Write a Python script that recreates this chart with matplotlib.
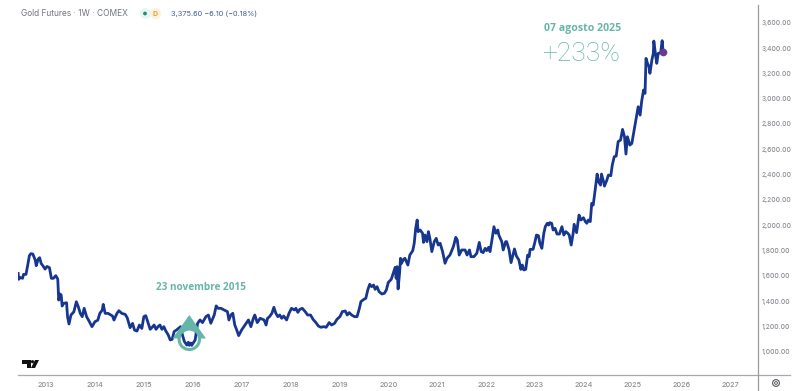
import matplotlib
matplotlib.use('Agg')
import matplotlib.pyplot as plt
from matplotlib.lines import Line2D
from matplotlib.patches import Circle, Polygon
from matplotlib.transforms import IdentityTransform

W, H = 800, 391

years = [2012.43, 2012.44, 2012.475, 2012.52, 2012.54, 2012.59, 2012.62, 2012.66, 2012.69, 2012.73,
         2012.78, 2012.80, 2012.84, 2012.87, 2012.90, 2012.94, 2012.98, 2013.02, 2013.07, 2013.11,
         2013.15, 2013.20, 2013.24, 2013.26, 2013.29, 2013.31, 2013.33, 2013.36, 2013.42, 2013.44,
         2013.47, 2013.51, 2013.54, 2013.57, 2013.62, 2013.66, 2013.70, 2013.74, 2013.78, 2013.83,
         2013.88, 2013.94, 2014.00, 2014.06, 2014.10, 2014.15, 2014.17, 2014.21, 2014.27, 2014.36,
         2014.39, 2014.45, 2014.49, 2014.55, 2014.62, 2014.66, 2014.72, 2014.77, 2014.81, 2014.86,
         2014.91, 2014.96, 2015.00, 2015.04, 2015.09, 2015.13, 2015.17, 2015.21, 2015.25, 2015.29,
         2015.33, 2015.37, 2015.41, 2015.45, 2015.50, 2015.54, 2015.58, 2015.62, 2015.67, 2015.75,
         2015.79, 2015.83, 2015.88, 2015.91, 2015.93, 2015.96, 2015.98, 2016.05, 2016.10, 2016.15,
         2016.20, 2016.27,
         2016.32, 2016.37, 2016.44, 2016.48, 2016.52, 2016.58, 2016.64, 2016.71, 2016.74, 2016.78,
         2016.82, 2016.86, 2016.90, 2016.94, 2017.00, 2017.07, 2017.14, 2017.19, 2017.24, 2017.27,
         2017.32, 2017.38, 2017.46, 2017.50, 2017.53, 2017.57, 2017.62, 2017.66, 2017.70, 2017.74,
         2017.78, 2017.82, 2017.86, 2017.92, 2017.97, 2018.02, 2018.08, 2018.11, 2018.15, 2018.19,
         2018.24, 2018.30, 2018.35, 2018.41, 2018.46, 2018.52, 2018.57, 2018.62, 2018.68, 2018.73,
         2018.79, 2018.84, 2018.90, 2018.95, 2019.01, 2019.06, 2019.12, 2019.16, 2019.20, 2019.25,
         2019.31, 2019.36, 2019.40, 2019.44, 2019.50, 2019.54, 2019.58, 2019.62, 2019.66, 2019.70,
         2019.73, 2019.77, 2019.81, 2019.87, 2019.92, 2019.96, 2020.00, 2020.06, 2020.10, 2020.14,
         2020.16, 2020.18, 2020.20, 2020.23, 2020.25, 2020.27, 2020.31, 2020.34, 2020.37, 2020.40,
         2020.44, 2020.50, 2020.53, 2020.56, 2020.59, 2020.61, 2020.65, 2020.70, 2020.72, 2020.75,
         2020.79, 2020.82, 2020.85, 2020.89, 2020.94, 2020.98, 2021.02, 2021.06, 2021.11, 2021.16,
         2021.20, 2021.26, 2021.33, 2021.38, 2021.41, 2021.45, 2021.50, 2021.57, 2021.61, 2021.66,
         2021.69, 2021.75, 2021.81, 2021.86, 2021.90, 2021.94, 2021.98, 2022.01, 2022.05, 2022.08,
         2022.13, 2022.16, 2022.20, 2022.24, 2022.26, 2022.32, 2022.35, 2022.40, 2022.42, 2022.47,
         2022.51, 2022.55, 2022.58, 2022.62, 2022.67, 2022.71, 2022.74, 2022.77, 2022.81, 2022.85,
         2022.88, 2022.90, 2022.96, 2023.00, 2023.03, 2023.07, 2023.10, 2023.14, 2023.18, 2023.21,
         2023.25, 2023.28, 2023.30, 2023.34, 2023.37, 2023.41, 2023.45, 2023.50, 2023.55, 2023.59,
         2023.63, 2023.67, 2023.70, 2023.74, 2023.78, 2023.80, 2023.85, 2023.90, 2023.94, 2023.99,
         2024.03, 2024.06, 2024.09, 2024.13, 2024.16, 2024.19, 2024.23, 2024.27, 2024.30, 2024.34,
         2024.36, 2024.41, 2024.42, 2024.47, 2024.50, 2024.55, 2024.58, 2024.62, 2024.66, 2024.70,
         2024.75, 2024.79, 2024.83, 2024.86, 2024.89, 2024.94, 2024.98, 2025.05, 2025.11, 2025.15,
         2025.18, 2025.22, 2025.25, 2025.27, 2025.30, 2025.33, 2025.35, 2025.39, 2025.42, 2025.43,
         2025.47, 2025.49, 2025.52, 2025.57, 2025.60, 2025.62]
prices = [1619, 1572, 1587, 1580, 1611, 1611, 1672, 1759, 1775, 1772,
          1724, 1680, 1732, 1743, 1698, 1677, 1653, 1674, 1664, 1580,
          1580, 1601, 1574, 1408, 1456, 1448, 1361, 1382, 1387, 1277,
          1219, 1290, 1303, 1316, 1395, 1356, 1303, 1277, 1343, 1277,
          1242, 1198, 1237, 1250, 1303, 1329, 1374, 1303, 1303, 1282,
          1250, 1303, 1324, 1303, 1295, 1269, 1190, 1224, 1171, 1163,
          1211, 1184, 1277, 1285, 1225, 1177, 1193, 1211, 1177, 1198,
          1211, 1177, 1198, 1164, 1132, 1093, 1098, 1159, 1172, 1198,
          1132, 1080, 1053, 1075, 1050, 1068, 1050, 1093, 1225, 1251,
          1230, 1277,
          1290, 1225, 1290, 1362, 1343, 1343, 1330, 1317, 1251, 1290,
          1304, 1211, 1172, 1127, 1172, 1211, 1251, 1198, 1264, 1290,
          1230, 1264, 1251, 1211, 1264, 1277, 1304, 1351, 1304, 1277,
          1290, 1264, 1282, 1251, 1304, 1343, 1330, 1343, 1311, 1335,
          1343, 1317, 1290, 1290, 1256, 1230, 1203, 1193, 1198, 1193,
          1230, 1211, 1224, 1256, 1277, 1317, 1322, 1290, 1309, 1290,
          1277, 1277, 1330, 1396, 1414, 1422, 1488, 1533, 1514, 1527,
          1493, 1514, 1475, 1456, 1462, 1488, 1548, 1572, 1620, 1667,
          1580, 1672, 1496, 1620, 1738, 1699, 1730, 1738, 1712, 1685,
          1764, 1799, 1857, 1975, 2041, 1949, 1962, 1936, 1864, 1922,
          1870, 1949, 1896, 1791, 1870, 1896, 1843, 1857, 1791, 1699,
          1738, 1764, 1830, 1904, 1883, 1764, 1804, 1804, 1764, 1804,
          1751, 1751, 1778, 1864, 1791, 1783, 1817, 1799, 1825, 1791,
          1909, 1988, 1936, 1962, 1922, 1870, 1804, 1870, 1870, 1804,
          1704, 1764, 1812, 1756, 1725, 1651, 1685, 1646, 1651, 1764,
          1751, 1809, 1809, 1870, 1922, 1917, 1857, 1817, 1936, 1988,
          2015, 2001, 2020, 2015, 1962, 1975, 1930, 1930, 1988, 1922,
          1949, 1936, 1922, 1843, 1936, 2007, 1941, 2080, 2041, 2059,
          2028, 2015, 2041, 2028, 2173, 2159, 2278, 2404, 2344, 2317,
          2404, 2331, 2309, 2357, 2396, 2391, 2475, 2541, 2546, 2660,
          2673, 2757, 2699, 2562, 2699, 2633, 2646, 2804, 2936, 2870,
          2976, 3068, 3042, 3318, 3279, 3252, 3200, 3305, 3358, 3455,
          3331, 3279, 3358, 3363, 3458, 3371]

year_ticks = list(range(2013, 2028))
price_ticks = list(range(1000, 3601, 200))

NAVY = '#17368f'
TEAL = '#66b5a9'
GREY = '#8a8d94'
AXIS = '#a8a9ad'

def fx(px):
    return px / W

def fy(py):
    return 1 - py / H

def pix(px, py):
    return (px, H - py)

fig = plt.figure(figsize=(W / 100, H / 100), dpi=100)
ax = fig.add_axes([fx(18), fy(375), fx(757.5) - fx(18), fy(5) - fy(375)])
ax.set_xlim(2012.427, 2027.55)
ax.set_ylim(816, 3740)

for s in ['top', 'left', 'bottom', 'right']:
    ax.spines[s].set_visible(False)

ax.plot(years, prices, color=NAVY, lw=2.0, solid_joinstyle='round', zorder=2)
ax.plot(years[-1], prices[-1], 'o', ms=4.5, color='#6d3a8e', zorder=3)

# arrow mark over the 2015 low
tri = Polygon([pix(189.3, 315), pix(172.5, 338.5), pix(206, 338.5)], closed=True,
              transform=IdentityTransform(), fc=TEAL, ec='none', zorder=4, clip_on=False)
ring = Circle(pix(189.3, 339.3), 10.2, transform=IdentityTransform(), fc='white', ec=TEAL,
              lw=2.2, zorder=5, clip_on=False)
ax.add_patch(tri)
ax.add_patch(ring)
inner, = ax.plot(years, prices, color=NAVY, lw=2.0, zorder=6)
inner.set_clip_path(Circle(pix(189.3, 339.3), 9, transform=IdentityTransform()))

ax.set_xticks(year_ticks)
ax.set_xticklabels([str(y) for y in year_ticks], fontsize=5.2, color=GREY, family='Inter', fontweight='medium')
ax.yaxis.tick_right()
ax.set_yticks(price_ticks)
ax.set_yticklabels([f'{p:,.2f}' for p in price_ticks], fontsize=4.8, color=GREY, family='Inter', fontweight='medium')
ax.tick_params(axis='x', length=0, pad=5)
ax.tick_params(axis='y', length=0, pad=3)

# frame lines run past the plot area
fig.add_artist(Line2D([fx(18), fx(790)], [fy(375), fy(375)], color=AXIS, lw=0.9))
fig.add_artist(Line2D([fx(757.5), fx(757.5)], [fy(5), fy(391)], color='#9a9a9e', lw=0.9))

# header
fig.text(fx(21), fy(13.5), 'Gold Futures · 1W · COMEX', fontsize=6.0, color='#70747c', family='Inter', va='center')
fig.text(fx(171), fy(13.5), '3,375.60 −6.10 (−0.18%)', fontsize=5.3, color='#3d5a94', family='Inter', va='center')
ax.add_patch(Circle(pix(145.5, 13.5), 5.5, transform=IdentityTransform(), fc='#e6f6f1', ec='none', clip_on=False))
ax.add_patch(Circle(pix(155.5, 13.5), 5.5, transform=IdentityTransform(), fc='#fdf0dd', ec='none', clip_on=False))
ax.add_patch(Circle(pix(145, 13.5), 1.9, transform=IdentityTransform(), fc='#1f8f7c', ec='none', clip_on=False))
fig.text(fx(155.5), fy(13.5), 'D', fontsize=5, color='#e8a33d', ha='center', va='center', family='Inter', fontweight='bold')

# annotations
fig.text(fx(200.5), fy(288), '23 novembre 2015', fontsize=7.2, color=TEAL, ha='center', va='center',
         family='Open Sans', fontweight='bold')
fig.text(fx(582.5), fy(28), '07 agosto 2025', fontsize=7.6, color=TEAL, ha='center', va='center',
         family='Open Sans', fontweight='bold')
fig.text(fx(581.5), fy(54), '+233%', fontsize=19, color=TEAL, ha='center', va='center',
         family='Roboto', fontweight='light')

# TradingView logo
ax.add_patch(Polygon([pix(22, 360), pix(31, 360), pix(31, 368), pix(27, 368), pix(27, 363.5), pix(22, 363.5)],
                     transform=IdentityTransform(), fc='#111111', ec='none', clip_on=False, zorder=5))
ax.add_patch(Circle(pix(32.5, 361.7), 1.6, transform=IdentityTransform(), fc='#111111', ec='none', clip_on=False, zorder=5))
ax.add_patch(Polygon([pix(35, 360), pix(39, 360), pix(35, 368), pix(31, 368)],
                     transform=IdentityTransform(), fc='#111111', ec='none', clip_on=False, zorder=5))

# clock icon, bottom right
ax.add_patch(Circle(pix(776, 383), 3.4, transform=IdentityTransform(), fc='none', ec='#55585f', lw=0.8, clip_on=False))
ax.add_patch(Circle(pix(776, 383), 1.4, transform=IdentityTransform(), fc='none', ec='#55585f', lw=0.7, clip_on=False))

fig.savefig('out.png', dpi=100, facecolor='white')
